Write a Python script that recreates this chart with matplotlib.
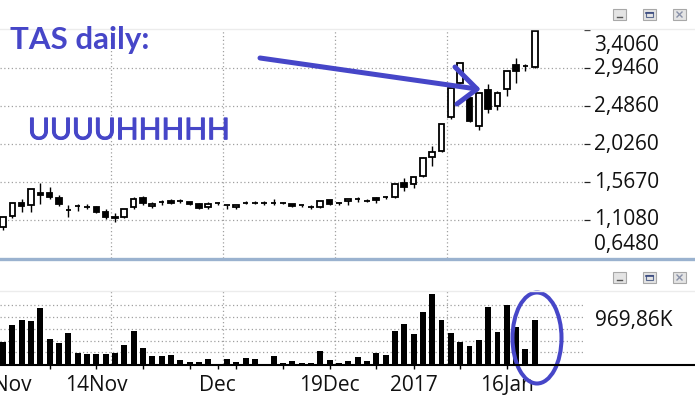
import matplotlib
matplotlib.use('Agg')
import matplotlib.pyplot as plt
import matplotlib.patheffects as pe
import numpy as np
from matplotlib.lines import Line2D
from matplotlib.patches import Ellipse, Rectangle

# daily candles, 31 Oct 2016 .. 19 Jan 2017 (price axis values)
opens = [1.027, 1.160, 1.310, 1.289, 1.431, 1.431, 1.370, 1.229, 1.277, 1.269,
         1.261, 1.208, 1.141, 1.141, 1.261, 1.370, 1.274, 1.329, 1.338, 1.334,
         1.322, 1.298, 1.269, 1.310, 1.289, 1.261, 1.317, 1.317, 1.310, 1.310,
         1.310, 1.301, 1.286, 1.261, 1.269, 1.350, 1.310, 1.334, 1.358, 1.338,
         1.370, 1.382, 1.390, 1.552, 1.540, 1.644, 1.866, 1.946, 2.350, 2.761,
         2.580, 2.249, 2.680, 2.490, 2.689, 2.979, 2.971, 2.962]
highs = [1.141, 1.310, 1.358, 1.479, 1.559, 1.503, 1.410, 1.289, 1.301, 1.301,
         1.277, 1.237, 1.189, 1.237, 1.382, 1.398, 1.329, 1.350, 1.362, 1.358,
         1.322, 1.310, 1.329, 1.329, 1.289, 1.293, 1.338, 1.338, 1.338, 1.362,
         1.322, 1.301, 1.295, 1.289, 1.338, 1.350, 1.320, 1.362, 1.386, 1.358,
         1.382, 1.398, 1.540, 1.612, 1.632, 1.874, 2.003, 2.265, 2.701, 3.003,
         2.587, 2.640, 2.753, 2.672, 2.910, 3.064, 2.995, 3.398]
lows = [0.987, 1.136, 1.208, 1.208, 1.298, 1.358, 1.281, 1.141, 1.220, 1.237,
        1.189, 1.120, 1.080, 1.128, 1.241, 1.289, 1.249, 1.289, 1.301, 1.317,
        1.286, 1.245, 1.245, 1.289, 1.237, 1.237, 1.298, 1.298, 1.289, 1.289,
        1.298, 1.269, 1.261, 1.237, 1.253, 1.289, 1.293, 1.289, 1.322, 1.322,
        1.317, 1.358, 1.374, 1.462, 1.499, 1.632, 1.765, 1.934, 2.333, 2.761,
        2.293, 2.196, 2.406, 2.438, 2.608, 2.761, 2.914, 2.952]
closes = [1.141, 1.310, 1.281, 1.479, 1.414, 1.382, 1.298, 1.229, 1.277, 1.269,
          1.208, 1.148, 1.128, 1.237, 1.358, 1.310, 1.301, 1.329, 1.317, 1.334,
          1.305, 1.257, 1.305, 1.310, 1.289, 1.293, 1.317, 1.317, 1.310, 1.310,
          1.310, 1.283, 1.286, 1.261, 1.338, 1.305, 1.310, 1.362, 1.358, 1.338,
          1.350, 1.382, 1.540, 1.511, 1.632, 1.854, 1.927, 2.265, 2.701, 3.003,
          2.309, 2.640, 2.454, 2.640, 2.910, 2.914, 2.971, 3.398]
# volume in thousands
volumes = [482, 861, 970, 948, 1242, 554, 466, 685, 247, 226,
           226, 226, 247, 423, 729, 357, 191, 191, 204, 94,
           50, 50, 116, 0, 116, 50, 138, 116, 0, 182,
           28, 72, 28, 28, 291, 94, 28, 72, 169, 72,
           247, 204, 729, 883, 664, 1145, 1540, 970, 685, 488,
           390, 532, 1255, 707, 1299, 806, 335, 969.86]

price_ticks = [3.406, 2.946, 2.486, 2.026, 1.567, 1.108, 0.648]
date_ticks = [5, 10, 15, 20, 23, 25, 30, 35, 40, 44, 49, 54]
date_label_pos = [1, 10, 23, 35, 44, 54]
date_labels = ['Nov', '14Nov', 'Dec', '19Dec', '2017', '16Jan']
vgrid = [11.57, 23.58, 35.58, 47.58]
vol_grid = [258.6, 517.2, 775.8, 1034.4, 1293.0]

W, H = 695, 401
BLUE = '#4646c8'
FONT = 'Open Sans'


def fx(px):
    return px / W


def fy(py):
    return 1 - py / H


fig = plt.figure(figsize=(W / 100, H / 100), dpi=100, facecolor='white')

step = 9.33
xmin, xmax = -3 / step, (584 - 3) / step
grid_kw = dict(color='#a0a0a0', lw=0.9, linestyle=(0, (1, 2)), zorder=0)

# price panel
ax = fig.add_axes([0, fy(258), 584 / W, (258 - 30) / H])
ax.set_xlim(xmin, xmax)
ax.set_ylim(price_ticks[-1], price_ticks[0])
for s in ax.spines.values():
    s.set_visible(False)
for v in price_ticks[1:-1]:
    ax.axhline(v, **grid_kw)
for v in vgrid:
    ax.axvline(v, **grid_kw)

x = np.arange(len(opens))
o = np.array(opens)
c = np.array(closes)
body_col = np.where(c < o, 'black', 'white')
ax.vlines(x, lows, highs, color='black', lw=1.0, zorder=2)
ax.bar(x, np.abs(c - o), bottom=np.minimum(o, c), width=0.6,
       color=body_col, edgecolor='black', lw=1.3, zorder=3)

ax.set_xticks([])
ax.yaxis.tick_right()
ax.set_yticks(price_ticks[:-1])
ax.set_yticklabels([])
ax.tick_params(axis='y', direction='out', length=4.3, width=0.9, color='#222222')
for i, v in enumerate(price_ticks):
    dy = 0
    if i == 0:
        dy = -11.5
    elif i == len(price_ticks) - 1:
        dy = 10.0
    ax.annotate(f"{v:.4f}".replace('.', ','), xy=(1, v),
                xycoords=('axes fraction', 'data'), xytext=(7.3, dy),
                textcoords='offset points', va='center', ha='left',
                fontsize=15, family=FONT, color='#111111', annotation_clip=False)

# volume panel
axv = fig.add_axes([0, fy(364.3), 584 / W, (364.3 - 291) / H])
axv.set_xlim(xmin, xmax)
axv.set_ylim(0, 73.3 * 21.9)
for s in axv.spines.values():
    s.set_visible(False)
for v in vol_grid:
    axv.axhline(v, **grid_kw)
for v in vgrid:
    axv.axvline(v, **grid_kw)
axv.bar(x, volumes, width=0.64, color='black', zorder=2)
axv.set_yticks([])
axv.set_xticks(date_ticks)
axv.set_xticklabels([])
axv.tick_params(axis='x', direction='out', length=3.8, width=1.0, color='black')
for p, lab in zip(date_label_pos, date_labels):
    axv.annotate(lab, xy=(p, 0), xycoords='data', xytext=(0, -15),
                 textcoords='offset points', ha='center', va='center',
                 fontsize=15, family=FONT, color='#111111', annotation_clip=False)
axv.annotate(f"{volumes[-1]:.2f}".replace('.', ',') + 'K', xy=(1, volumes[-1]),
             xycoords=('axes fraction', 'data'), xytext=(8, 0),
             textcoords='offset points', va='center', ha='left',
             fontsize=15, family=FONT, color='#111111', annotation_clip=False)

# frame lines
fig.add_artist(Line2D([0, 1], [fy(364.8)] * 2, transform=fig.transFigure, color='black', lw=1.5))
fig.add_artist(Line2D([0, 1], [fy(258.5)] * 2, transform=fig.transFigure, color='#9ab2cf', lw=2.4))
for yy in (29, 291):
    fig.add_artist(Line2D([0, 1], [fy(yy)] * 2, transform=fig.transFigure, color='#ececec', lw=1))

# window buttons
for top in (9, 272):
    for k, bx in enumerate((613, 643, 673)):
        fig.add_artist(Rectangle((fx(bx), fy(top + 11)), 13 / W, 11 / H, transform=fig.transFigure,
                                 facecolor='#e4e4e4', edgecolor='#a8a8a8', lw=0.8))
        cx, cy = bx + 6.5, top + 5.5
        if k == 0:
            fig.add_artist(Line2D([fx(cx - 2.5), fx(cx + 2.5)], [fy(cy + 2)] * 2,
                                  transform=fig.transFigure, color='#555555', lw=1))
        elif k == 1:
            fig.add_artist(Rectangle((fx(cx - 3.5), fy(cy + 2.5)), 7 / W, 5 / H, transform=fig.transFigure,
                                     facecolor='none', edgecolor='#5a6a90', lw=0.8))
            fig.add_artist(Line2D([fx(cx - 3.5), fx(cx + 3.5)], [fy(cy - 1.8)] * 2,
                                  transform=fig.transFigure, color='#3a4a80', lw=1.2))
        else:
            fig.add_artist(Line2D([fx(cx - 2.5), fx(cx + 2.5)], [fy(cy - 2.5), fy(cy + 2.5)],
                                  transform=fig.transFigure, color='#8890a8', lw=1))
            fig.add_artist(Line2D([fx(cx - 2.5), fx(cx + 2.5)], [fy(cy + 2.5), fy(cy - 2.5)],
                                  transform=fig.transFigure, color='#8890a8', lw=1))

# annotations drawn on top
fig.text(fx(10), fy(49.3), 'TAS daily:', fontsize=22.5, fontweight='bold', color=BLUE,
         family='Lato', va='baseline', ha='left')
fig.text(fx(28), fy(139.3), 'UUUUHHHHH', fontsize=21.5, color=BLUE,
         family='Lato', va='baseline', ha='left',
         path_effects=[pe.withStroke(linewidth=0.7, foreground=BLUE)])
arrow_kw = dict(transform=fig.transFigure, color=BLUE, lw=3.6, solid_capstyle='round',
                solid_joinstyle='round')
fig.add_artist(Line2D([fx(260), fx(477)], [fy(58), fy(89)], **arrow_kw))
fig.add_artist(Line2D([fx(455), fx(477), fx(457)], [fy(67), fy(89), fy(104)], **arrow_kw))
fig.add_artist(Ellipse((fx(537), fy(338)), 49 / W, 91 / H, transform=fig.transFigure,
                       facecolor='none', edgecolor=BLUE, lw=2.9))

fig.savefig('out.png', dpi=100, facecolor='white')
